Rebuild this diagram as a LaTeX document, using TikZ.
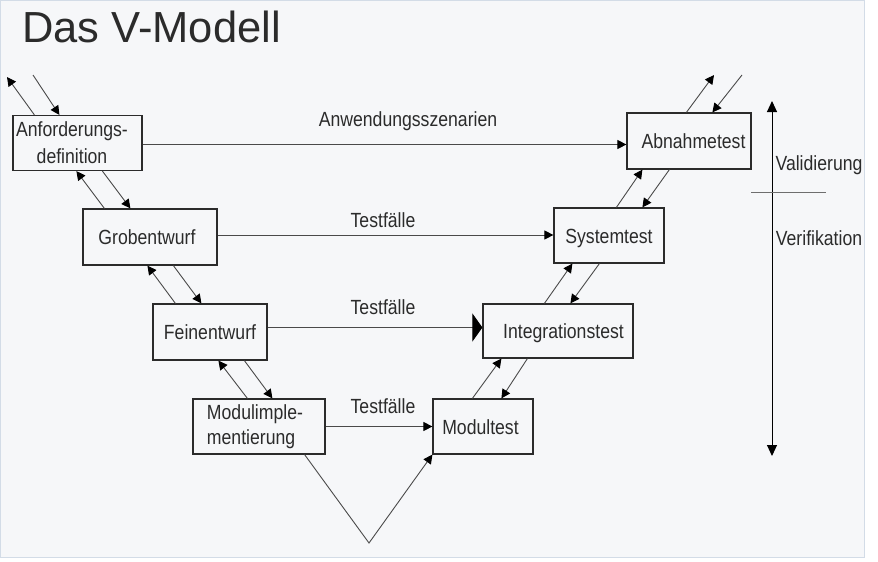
\documentclass[tikz,border=0pt]{standalone}
\usepackage{fontspec}
\setmainfont{Liberation Sans}[FakeStretch=0.86]
\newfontfamily\titlefont{Liberation Sans}
\usetikzlibrary{arrows.meta, positioning}
\definecolor{panel}{HTML}{F6F7F9}
\definecolor{panelline}{HTML}{D3DCE7}
\definecolor{ink}{HTML}{2B2B2B}
\definecolor{wire}{HTML}{4A4A4A}
\tikzset{
    phase/.style={rectangle, draw=ink, line width=1.2pt, inner sep=0pt, align=center, text=ink, font=\fontsize{20.5pt}{24pt}\selectfont},
    oneline/.style={text height=15pt, text depth=0pt},
    flowtext/.style={inner sep=0pt, text=ink, font=\fontsize{20.5pt}{24pt}\selectfont},
    arrow/.style={-{Triangle[length=9pt, width=9pt, color=black]}, line width=0.9pt, draw=wire}
}

\begin{document}
\begin{tikzpicture}[x=1pt, y=-1pt]
        % --- Canvas and panel ---
        \useasboundingbox (0,0) rectangle (878,562);
        \fill[panel] (0,0) rectangle (864,557);
        \draw[panelline, line width=1pt] (0.5,0.5) rectangle (864.5,557.5);

        \node (title) [anchor=base west, inner sep=0pt, text=ink, font=\titlefont\fontsize{43.5pt}{50pt}\selectfont] at (22,42) {Das V-Modell};

        % --- Left branch: specification ---
        \node (anf) [phase, minimum width=129pt, minimum height=55pt] at (77.5,143) {Anforderungs-\hspace*{11pt}\\[3pt]definition\hspace*{11pt}};
        \node (grob) [phase, oneline, minimum width=134pt, minimum height=56pt] at (150,237) {Grobentwurf\hspace*{6pt}};
        \node (fein) [phase, oneline, minimum width=114pt, minimum height=56pt] at (210,332) {Feinentwurf};
        \node (modimp) [phase, minimum width=132pt, minimum height=55pt, align=left] at (259,426.5) {Modulimple-\hspace*{8pt}\\[0.5pt]mentierung};

        % --- Right branch: tests ---
        \node (modtest) [phase, oneline, minimum width=100pt, minimum height=55pt] at (483,426.5) {Modultest\hspace*{5pt}};
        \node (integ) [phase, oneline, minimum width=150pt, minimum height=54pt] at (558,331) {\hspace*{11pt}Integrationstest};
        \node (sys) [phase, oneline, minimum width=110pt, minimum height=55pt] at (609,235.5) {Systemtest};
        \node (abn) [phase, oneline, minimum width=124pt, minimum height=56pt] at (689,141) {\hspace*{9pt}Abnahmetest};

        % --- Labels on the horizontal links ---
        \node (scen) [flowtext, anchor=base] at (408,126) {Anwendungsszenarien};
        \node (tf1) [flowtext, anchor=base] at (383,227) {Testfälle};
        \node (tf2) [flowtext, anchor=base] at (383,314) {Testfälle};
        \node (tf3) [flowtext, anchor=base] at (383,413) {Testfälle};

        % --- Horizontal links ---
        \draw [arrow] ([yshift=-1.5pt]anf.east) -- ([yshift=-1.5pt]anf.east -| abn.west);
        \draw [arrow] ([yshift=2pt]grob.east) -- ([yshift=2pt]grob.east -| sys.west);
        \draw [arrow, -{Triangle[length=10pt, width=28pt, color=black]}] ([yshift=4.5pt]fein.east) -- ([yshift=4.5pt]fein.east -| integ.west);
        \draw [arrow] (modimp.east) -- (modimp.east -| modtest.west);

        % --- Bottom of the V ---
        \coordinate (vtip) at (369,543);
        \draw [arrow] ([xshift=-21pt]modimp.south east) -- (vtip) -- (modtest.south west);

        % --- Diagonal pairs, left side ---
        \coordinate (inL) at (7,77);
        \coordinate (outL) at (33,75);
        \draw [arrow] ([xshift=22pt]anf.north west) -- (inL);
        \draw [arrow] (outL) -- ([xshift=47pt]anf.north west);
        \draw [arrow] ([xshift=22pt]grob.north west) -- ([xshift=64pt]anf.south west);
        \draw [arrow] ([xshift=90pt]anf.south west) -- ([xshift=48pt]grob.north west);
        \draw [arrow] ([xshift=23pt]fein.north west) -- ([xshift=65pt]grob.south west);
        \draw [arrow] ([xshift=91pt]grob.south west) -- ([xshift=49pt]fein.north west);
        \draw [arrow] ([xshift=55pt]modimp.north west) -- ([xshift=66pt]fein.south west);
        \draw [arrow] ([xshift=92pt]fein.south west) -- ([xshift=80pt]modimp.north west);

        % --- Diagonal pairs, right side ---
        \draw [arrow] ([xshift=40pt]modtest.north west) -- ([xshift=19pt]integ.south west);
        \draw [arrow] ([xshift=45pt]integ.south west) -- ([xshift=69pt]modtest.north west);
        \draw [arrow] ([xshift=62pt]integ.north west) -- ([xshift=19pt]sys.south west);
        \draw [arrow] ([xshift=46pt]sys.south west) -- ([xshift=88pt]integ.north west);
        \draw [arrow] ([xshift=63pt]sys.north west) -- ([xshift=16pt]abn.south west);
        \draw [arrow] ([xshift=43pt]abn.south west) -- ([xshift=89pt]sys.north west);
        \coordinate (outR) at (714,75);
        \coordinate (inR) at (742,75);
        \draw [arrow] ([xshift=60pt]abn.north west) -- (outR);
        \draw [arrow] (inR) -- ([xshift=86pt]abn.north west);

        % --- Validation / verification axis ---
        \coordinate (axtop) at (772,101);
        \coordinate (axbot) at (772,456);
        \draw [{Triangle[length=11pt, width=10pt]}-{Triangle[length=11pt, width=10pt]}, line width=1pt, black] (axtop) -- (axbot);
        \coordinate (divl) at (751,192);
        \coordinate (divr) at (826,192);
        \draw [wire!80, line width=1pt] (divl) -- (divr);
        \node (valid) [flowtext, anchor=base] at (819,170) {Validierung};
        \node (verif) [flowtext, anchor=base] at (819,245) {Verifikation};
\end{tikzpicture}
\end{document}
